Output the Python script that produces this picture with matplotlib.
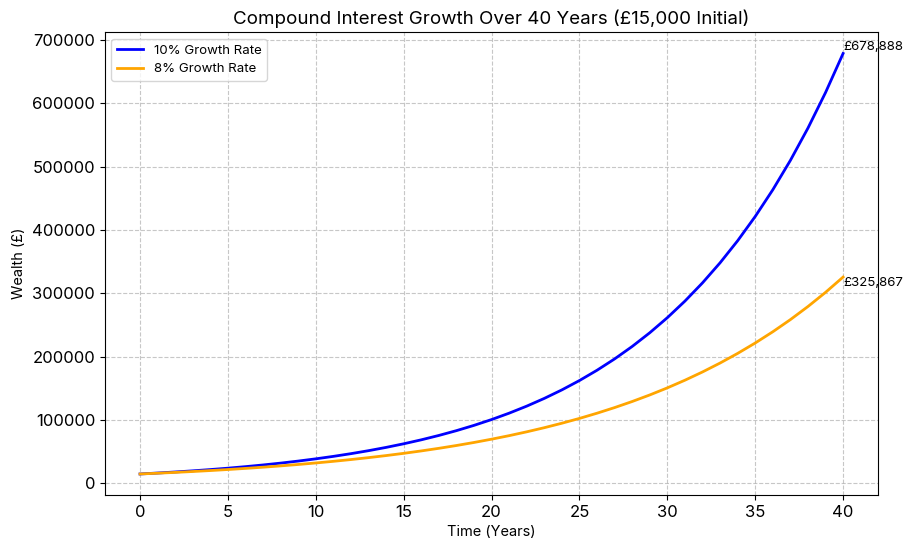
import matplotlib
matplotlib.use("Agg")
import matplotlib.pyplot as plt

plt.rcParams['font.family'] = ['Inter', 'DejaVu Sans']

# values, one per year
years = list(range(0, 41))
wealth_10 = [15000, 16500, 18150, 19965, 21962, 24158, 26573, 29231, 32154, 35369,
             38906, 42797, 47076, 51784, 56962, 62659, 68925, 75817, 83399, 91739,
             100913, 111004, 122104, 134315, 147746, 162521, 178773, 196650, 216315, 237946,
             261741, 287915, 316707, 348377, 383215, 421537, 463690, 510059, 561065, 617172,
             678888]
wealth_8 = [15000, 16200, 17496, 18896, 20407, 22040, 23803, 25707, 27764, 29985,
            32384, 34975, 37773, 40794, 44058, 47583, 51389, 55500, 59940, 64736,
            69914, 75507, 81548, 88072, 95118, 102727, 110945, 119821, 129407, 139759,
            150940, 163015, 176056, 190141, 205352, 221780, 239523, 258684, 279379, 301729,
            325867]
labels = ["10% Growth Rate", "8% Growth Rate"]

fig = plt.figure(figsize=(9.12, 5.5), dpi=100)
ax = fig.add_axes([0.115, 0.1, 0.848, 0.841])

ax.plot(years, wealth_10, color='blue', lw=2, label=labels[0])
ax.plot(years, wealth_8, color='orange', lw=2, label=labels[1])

ax.text(years[-1], wealth_10[-1], f"£{wealth_10[-1]:,}", fontsize=9.5,
        ha='left', va='bottom')
ax.text(years[-1], wealth_8[-1], f"£{wealth_8[-1]:,}", fontsize=9.5,
        ha='left', va='top')

ax.set_title("Compound Interest Growth Over 40 Years (£15,000 Initial)", fontsize=13.5)
ax.set_xlabel("Time (Years)", fontsize=10.5)
ax.set_ylabel("Wealth (£)", fontsize=10.5)
ax.tick_params(labelsize=12)
ax.grid(True, linestyle='--', alpha=0.7)
ax.legend(loc='upper left', fontsize=9.5)

fig.savefig("out.png", dpi=100)
